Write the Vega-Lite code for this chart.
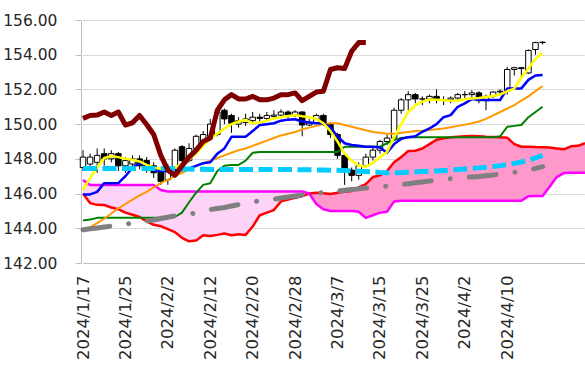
{
  "$schema": "https://vega.github.io/schema/vega-lite/v6.json",
  "autosize": {"type": "none"},
  "width": 504,
  "height": 243,
  "padding": {"left": 81, "top": 20, "right": 0, "bottom": 117},
  "background": "#ffffff",
  "config": {
    "view": {"stroke": null},
    "font": "DejaVu Sans",
    "axis": {"labelFont": "DejaVu Sans", "labelColor": "#262626", "labelOverlap": false},
    "axisY": {"labelOverlap": false, "labelFontSize": 15.5, "labelPadding": 18, "tickSize": 6, "tickColor": "#bfbfbf", "domainColor": "#bfbfbf", "gridColor": "#c8c8c8", "gridDash": [2, 1]}
  },
  "data": {"values": [
    {"date":"2024/1/17","open":147.5,"high":148.5,"low":147.3,"close":148.1,"ma5":146.2,"tenkan":145.95,"ma25":143.8,"kijun":144.45,"ma75":147.45,"ma200":143.92,"chikou":150.33,"spanA":146.0,"spanB":146.78},
    {"date":"2024/1/18","open":147.7,"high":148.3,"low":147.4,"close":148.1,"ma5":146.9,"tenkan":145.95,"ma25":144.05,"kijun":144.5,"ma75":147.45,"ma200":143.97,"chikou":150.5,"spanA":145.45,"spanB":146.5},
    {"date":"2024/1/19","open":147.8,"high":148.6,"low":147.2,"close":148.2,"ma5":147.5,"tenkan":146.1,"ma25":144.3,"kijun":144.6,"ma75":147.45,"ma200":144.02,"chikou":150.52,"spanA":145.35,"spanB":146.5},
    {"date":"2024/1/22","open":148.3,"high":148.6,"low":147.6,"close":148.0,"ma5":148.05,"tenkan":146.6,"ma25":144.55,"kijun":144.6,"ma75":147.45,"ma200":144.07,"chikou":150.7,"spanA":145.34,"spanB":146.5},
    {"date":"2024/1/23","open":148.0,"high":148.5,"low":147.8,"close":148.3,"ma5":148.15,"tenkan":146.6,"ma25":144.85,"kijun":144.6,"ma75":147.45,"ma200":144.12,"chikou":150.5,"spanA":145.2,"spanB":146.5},
    {"date":"2024/1/24","open":148.3,"high":148.4,"low":147.3,"close":147.6,"ma5":148.1,"tenkan":146.6,"ma25":145.15,"kijun":144.6,"ma75":147.45,"ma200":144.18,"chikou":150.7,"spanA":145.1,"spanB":146.5},
    {"date":"2024/1/25","open":147.6,"high":148.1,"low":147.2,"close":147.9,"ma5":148.0,"tenkan":147.0,"ma25":145.4,"kijun":144.6,"ma75":147.45,"ma200":144.24,"chikou":149.95,"spanA":144.9,"spanB":146.5},
    {"date":"2024/1/26","open":147.7,"high":148.2,"low":147.4,"close":148.0,"ma5":147.95,"tenkan":147.5,"ma25":145.65,"kijun":144.6,"ma75":147.45,"ma200":144.3,"chikou":150.08,"spanA":144.78,"spanB":146.5},
    {"date":"2024/1/29","open":148.0,"high":148.2,"low":147.4,"close":147.6,"ma5":147.85,"tenkan":147.75,"ma25":145.9,"kijun":144.6,"ma75":147.45,"ma200":144.36,"chikou":150.5,"spanA":144.65,"spanB":146.5},
    {"date":"2024/1/30","open":147.9,"high":148.1,"low":147.2,"close":147.4,"ma5":147.65,"tenkan":147.65,"ma25":146.1,"kijun":144.6,"ma75":147.45,"ma200":144.42,"chikou":149.98,"spanA":144.4,"spanB":146.5},
    {"date":"2024/1/31","open":147.6,"high":147.8,"low":146.9,"close":147.2,"ma5":147.5,"tenkan":147.35,"ma25":146.35,"kijun":144.6,"ma75":147.45,"ma200":144.48,"chikou":149.4,"spanA":144.2,"spanB":146.5},
    {"date":"2024/2/1","open":147.4,"high":147.5,"low":146.5,"close":146.7,"ma5":147.42,"tenkan":147.3,"ma25":146.6,"kijun":144.6,"ma75":147.45,"ma200":144.56,"chikou":148.2,"spanA":144.12,"spanB":146.2},
    {"date":"2024/2/2","open":146.8,"high":147.7,"low":146.5,"close":147.5,"ma5":147.35,"tenkan":147.3,"ma25":146.8,"kijun":144.6,"ma75":147.44,"ma200":144.64,"chikou":147.35,"spanA":143.95,"spanB":146.12},
    {"date":"2024/2/5","open":147.5,"high":148.6,"low":147.3,"close":148.5,"ma5":147.5,"tenkan":147.35,"ma25":147.0,"kijun":144.65,"ma75":147.43,"ma200":144.72,"chikou":147.05,"spanA":143.78,"spanB":146.12},
    {"date":"2024/2/6","open":148.7,"high":148.8,"low":147.8,"close":147.9,"ma5":147.7,"tenkan":147.35,"ma25":147.2,"kijun":144.9,"ma75":147.42,"ma200":144.77,"chikou":147.6,"spanA":143.45,"spanB":146.12},
    {"date":"2024/2/7","open":147.9,"high":148.9,"low":147.8,"close":148.6,"ma5":147.95,"tenkan":147.45,"ma25":147.4,"kijun":145.5,"ma75":147.41,"ma200":144.82,"chikou":148.1,"spanA":143.25,"spanB":146.12},
    {"date":"2024/2/8","open":148.6,"high":149.4,"low":148.3,"close":149.3,"ma5":148.3,"tenkan":147.6,"ma25":147.6,"kijun":146.05,"ma75":147.4,"ma200":144.88,"chikou":148.5,"spanA":143.3,"spanB":146.12},
    {"date":"2024/2/9","open":148.9,"high":149.6,"low":148.8,"close":149.4,"ma5":148.75,"tenkan":147.75,"ma25":147.75,"kijun":146.5,"ma75":147.4,"ma200":144.95,"chikou":149.0,"spanA":143.6,"spanB":146.12},
    {"date":"2024/2/12","open":149.3,"high":150.3,"low":149.2,"close":150.0,"ma5":149.15,"tenkan":147.8,"ma25":147.9,"kijun":146.6,"ma75":147.39,"ma200":145.08,"chikou":149.2,"spanA":143.55,"spanB":146.12},
    {"date":"2024/2/13","open":149.4,"high":150.9,"low":149.3,"close":150.7,"ma5":149.45,"tenkan":148.3,"ma25":148.05,"kijun":147.3,"ma75":147.39,"ma200":145.14,"chikou":150.8,"spanA":143.62,"spanB":146.12},
    {"date":"2024/2/14","open":150.8,"high":150.9,"low":150.0,"close":150.3,"ma5":149.75,"tenkan":148.6,"ma25":148.2,"kijun":147.6,"ma75":147.38,"ma200":145.2,"chikou":151.4,"spanA":143.7,"spanB":146.12},
    {"date":"2024/2/15","open":150.5,"high":150.6,"low":149.5,"close":150.05,"ma5":150.0,"tenkan":149.27,"ma25":148.35,"kijun":147.65,"ma75":147.38,"ma200":145.28,"chikou":151.7,"spanA":143.6,"spanB":146.12},
    {"date":"2024/2/16","open":150.0,"high":150.4,"low":149.8,"close":150.2,"ma5":150.15,"tenkan":149.27,"ma25":148.5,"kijun":147.65,"ma75":147.38,"ma200":145.36,"chikou":151.45,"spanA":143.65,"spanB":146.12},
    {"date":"2024/2/19","open":150.1,"high":150.6,"low":149.9,"close":150.3,"ma5":150.24,"tenkan":149.27,"ma25":148.6,"kijun":147.9,"ma75":147.38,"ma200":145.45,"chikou":151.45,"spanA":143.62,"spanB":146.12},
    {"date":"2024/2/20","open":150.2,"high":150.7,"low":150.0,"close":150.4,"ma5":150.05,"tenkan":149.6,"ma25":148.75,"kijun":148.35,"ma75":147.38,"ma200":145.52,"chikou":151.6,"spanA":144.1,"spanB":146.12},
    {"date":"2024/2/21","open":150.4,"high":150.6,"low":150.1,"close":150.33,"ma5":150.1,"tenkan":149.95,"ma25":148.9,"kijun":148.4,"ma75":147.38,"ma200":145.58,"chikou":151.4,"spanA":144.75,"spanB":146.12},
    {"date":"2024/2/22","open":150.33,"high":150.7,"low":150.2,"close":150.5,"ma5":150.2,"tenkan":150.0,"ma25":149.05,"kijun":148.4,"ma75":147.38,"ma200":145.63,"chikou":151.4,"spanA":144.9,"spanB":146.12},
    {"date":"2024/2/23","open":150.45,"high":150.8,"low":150.3,"close":150.52,"ma5":150.33,"tenkan":150.05,"ma25":149.2,"kijun":148.4,"ma75":147.38,"ma200":145.68,"chikou":151.5,"spanA":145.05,"spanB":146.12},
    {"date":"2024/2/26","open":150.52,"high":150.85,"low":150.4,"close":150.7,"ma5":150.4,"tenkan":150.2,"ma25":149.35,"kijun":148.4,"ma75":147.38,"ma200":145.74,"chikou":151.7,"spanA":145.55,"spanB":146.12},
    {"date":"2024/2/27","open":150.7,"high":150.8,"low":150.3,"close":150.5,"ma5":150.47,"tenkan":150.26,"ma25":149.45,"kijun":148.4,"ma75":147.38,"ma200":145.8,"chikou":151.7,"spanA":145.65,"spanB":146.12},
    {"date":"2024/2/28","open":150.5,"high":150.8,"low":150.4,"close":150.7,"ma5":150.52,"tenkan":150.28,"ma25":149.55,"kijun":148.4,"ma75":147.38,"ma200":145.86,"chikou":151.8,"spanA":145.75,"spanB":146.12},
    {"date":"2024/2/29","open":150.7,"high":150.75,"low":149.3,"close":149.95,"ma5":150.45,"tenkan":150.15,"ma25":149.7,"kijun":148.4,"ma75":147.37,"ma200":145.92,"chikou":151.35,"spanA":145.85,"spanB":146.12},
    {"date":"2024/3/1","open":149.95,"high":150.3,"low":149.9,"close":150.08,"ma5":150.4,"tenkan":150.1,"ma25":149.8,"kijun":148.4,"ma75":147.37,"ma200":145.97,"chikou":151.6,"spanA":146.0,"spanB":146.0},
    {"date":"2024/3/4","open":150.08,"high":150.6,"low":150.0,"close":150.5,"ma5":150.3,"tenkan":150.05,"ma25":149.9,"kijun":148.4,"ma75":147.36,"ma200":146.02,"chikou":151.85,"spanA":146.05,"spanB":145.4},
    {"date":"2024/3/5","open":150.5,"high":150.6,"low":149.9,"close":149.98,"ma5":150.05,"tenkan":150.05,"ma25":150.0,"kijun":148.4,"ma75":147.36,"ma200":146.07,"chikou":151.9,"spanA":146.02,"spanB":145.1},
    {"date":"2024/3/6","open":149.98,"high":150.1,"low":149.2,"close":149.4,"ma5":149.6,"tenkan":149.8,"ma25":150.05,"kijun":148.4,"ma75":147.35,"ma200":146.11,"chikou":153.15,"spanA":145.98,"spanB":145.0},
    {"date":"2024/3/7","open":149.4,"high":149.5,"low":148.0,"close":148.2,"ma5":149.0,"tenkan":149.3,"ma25":150.05,"kijun":148.4,"ma75":147.35,"ma200":146.15,"chikou":153.25,"spanA":146.05,"spanB":145.0},
    {"date":"2024/3/8","open":148.2,"high":148.3,"low":146.5,"close":147.35,"ma5":148.3,"tenkan":148.9,"ma25":149.95,"kijun":148.7,"ma75":147.33,"ma200":146.19,"chikou":153.2,"spanA":146.1,"spanB":145.0},
    {"date":"2024/3/11","open":147.35,"high":147.5,"low":146.7,"close":147.05,"ma5":147.9,"tenkan":148.8,"ma25":149.85,"kijun":148.7,"ma75":147.31,"ma200":146.23,"chikou":154.2,"spanA":146.15,"spanB":145.0},
    {"date":"2024/3/12","open":147.05,"high":147.8,"low":146.8,"close":147.6,"ma5":147.6,"tenkan":148.75,"ma25":149.75,"kijun":148.7,"ma75":147.29,"ma200":146.27,"chikou":154.7,"spanA":146.35,"spanB":144.95},
    {"date":"2024/3/13","open":147.6,"high":148.3,"low":147.5,"close":148.1,"ma5":147.55,"tenkan":148.7,"ma25":149.65,"kijun":148.7,"ma75":147.27,"ma200":146.32,"chikou":154.7,"spanA":146.55,"spanB":144.6},
    {"date":"2024/3/14","open":148.1,"high":148.7,"low":147.9,"close":148.5,"ma5":147.75,"tenkan":148.7,"ma25":149.55,"kijun":148.7,"ma75":147.25,"ma200":146.36,"spanA":146.95,"spanB":144.75},
    {"date":"2024/3/15","open":148.5,"high":149.1,"low":148.3,"close":149.0,"ma5":148.1,"tenkan":148.66,"ma25":149.5,"kijun":148.7,"ma75":147.22,"ma200":146.4,"spanA":147.05,"spanB":144.9},
    {"date":"2024/3/18","open":149.0,"high":149.4,"low":148.8,"close":149.2,"ma5":148.4,"tenkan":148.35,"ma25":149.45,"kijun":148.9,"ma75":147.2,"ma200":146.43,"spanA":147.3,"spanB":144.95},
    {"date":"2024/3/19","open":149.2,"high":150.95,"low":149.05,"close":150.8,"ma5":149.25,"tenkan":148.85,"ma25":149.45,"kijun":149.08,"ma75":147.2,"ma200":146.47,"spanA":147.8,"spanB":145.55},
    {"date":"2024/3/20","open":150.8,"high":151.5,"low":150.6,"close":151.4,"ma5":150.0,"tenkan":149.15,"ma25":149.5,"kijun":149.2,"ma75":147.21,"ma200":146.52,"spanA":148.1,"spanB":145.59},
    {"date":"2024/3/21","open":151.4,"high":151.9,"low":150.8,"close":151.7,"ma5":150.7,"tenkan":149.25,"ma25":149.55,"kijun":149.25,"ma75":147.23,"ma200":146.57,"spanA":148.45,"spanB":145.59},
    {"date":"2024/3/22","open":151.7,"high":151.8,"low":151.2,"close":151.45,"ma5":151.1,"tenkan":149.3,"ma25":149.6,"kijun":149.25,"ma75":147.25,"ma200":146.62,"spanA":148.47,"spanB":145.59},
    {"date":"2024/3/25","open":151.45,"high":151.6,"low":151.1,"close":151.45,"ma5":151.3,"tenkan":149.56,"ma25":149.62,"kijun":149.25,"ma75":147.27,"ma200":146.67,"spanA":148.6,"spanB":145.59},
    {"date":"2024/3/26","open":151.45,"high":151.7,"low":151.2,"close":151.6,"ma5":151.42,"tenkan":149.75,"ma25":149.66,"kijun":149.25,"ma75":147.29,"ma200":146.72,"spanA":148.85,"spanB":145.59},
    {"date":"2024/3/27","open":151.6,"high":152.0,"low":151.2,"close":151.4,"ma5":151.4,"tenkan":150.0,"ma25":149.7,"kijun":149.25,"ma75":147.3,"ma200":146.77,"spanA":149.1,"spanB":145.59},
    {"date":"2024/3/28","open":151.4,"high":151.6,"low":151.1,"close":151.4,"ma5":151.38,"tenkan":150.4,"ma25":149.75,"kijun":149.25,"ma75":147.33,"ma200":146.82,"spanA":149.18,"spanB":145.59},
    {"date":"2024/3/29","open":151.4,"high":151.6,"low":151.2,"close":151.5,"ma5":151.35,"tenkan":150.52,"ma25":149.82,"kijun":149.25,"ma75":147.36,"ma200":146.86,"spanA":149.25,"spanB":145.59},
    {"date":"2024/4/1","open":151.5,"high":151.8,"low":151.4,"close":151.7,"ma5":151.35,"tenkan":151.0,"ma25":149.9,"kijun":149.25,"ma75":147.39,"ma200":146.9,"spanA":149.28,"spanB":145.59},
    {"date":"2024/4/2","open":151.7,"high":151.9,"low":151.5,"close":151.7,"ma5":151.43,"tenkan":151.2,"ma25":149.97,"kijun":149.25,"ma75":147.42,"ma200":146.93,"spanA":149.3,"spanB":145.59},
    {"date":"2024/4/3","open":151.7,"high":151.95,"low":151.5,"close":151.8,"ma5":151.48,"tenkan":151.45,"ma25":150.05,"kijun":149.25,"ma75":147.45,"ma200":146.96,"spanA":149.31,"spanB":145.59},
    {"date":"2024/4/4","open":151.8,"high":151.9,"low":151.2,"close":151.35,"ma5":151.5,"tenkan":151.4,"ma25":150.15,"kijun":149.25,"ma75":147.48,"ma200":146.99,"spanA":149.3,"spanB":145.59},
    {"date":"2024/4/5","open":151.35,"high":151.7,"low":150.8,"close":151.6,"ma5":151.56,"tenkan":151.39,"ma25":150.3,"kijun":149.25,"ma75":147.52,"ma200":147.03,"spanA":149.27,"spanB":145.59},
    {"date":"2024/4/8","open":151.6,"high":151.9,"low":151.5,"close":151.85,"ma5":151.62,"tenkan":151.39,"ma25":150.5,"kijun":149.25,"ma75":147.56,"ma200":147.07,"spanA":149.26,"spanB":145.59},
    {"date":"2024/4/9","open":151.85,"high":152.0,"low":151.7,"close":151.9,"ma5":151.7,"tenkan":151.39,"ma25":150.7,"kijun":149.3,"ma75":147.61,"ma200":147.12,"spanA":149.25,"spanB":145.59},
    {"date":"2024/4/10","open":151.9,"high":153.3,"low":151.7,"close":153.15,"ma5":151.9,"tenkan":152.06,"ma25":150.9,"kijun":149.85,"ma75":147.67,"ma200":147.17,"spanA":149.22,"spanB":145.59},
    {"date":"2024/4/11","open":153.15,"high":153.3,"low":152.8,"close":153.25,"ma5":152.05,"tenkan":152.06,"ma25":151.1,"kijun":149.9,"ma75":147.74,"ma200":147.22,"spanA":148.85,"spanB":145.59},
    {"date":"2024/4/12","open":153.25,"high":153.3,"low":152.7,"close":153.2,"ma5":152.7,"tenkan":152.06,"ma25":151.35,"kijun":149.95,"ma75":147.82,"ma200":147.28,"spanA":148.7,"spanB":145.59},
    {"date":"2024/4/15","open":152.95,"high":154.3,"low":152.9,"close":154.25,"ma5":153.2,"tenkan":152.55,"ma25":151.6,"kijun":150.4,"ma75":147.92,"ma200":147.35,"spanA":148.7,"spanB":145.85},
    {"date":"2024/4/16","open":154.3,"high":154.75,"low":154.0,"close":154.7,"ma5":153.75,"tenkan":152.8,"ma25":151.9,"kijun":150.7,"ma75":148.05,"ma200":147.45,"spanA":148.68,"spanB":145.86},
    {"date":"2024/4/17","open":154.7,"high":154.78,"low":154.6,"close":154.72,"ma5":154.1,"tenkan":152.83,"ma25":152.2,"kijun":151.0,"ma75":148.2,"ma200":147.55,"spanA":148.67,"spanB":145.86},
    {"date":"2024/4/18","spanA":148.65,"spanB":146.4},
    {"date":"2024/4/19","spanA":148.6,"spanB":146.95},
    {"date":"2024/4/22","spanA":148.55,"spanB":147.18},
    {"date":"2024/4/23","spanA":148.72,"spanB":147.2},
    {"date":"2024/4/24","spanA":148.75,"spanB":147.2},
    {"date":"2024/4/25","spanA":148.9,"spanB":147.2}
  ]},
  "encoding": {
    "x": {
      "field": "date", "type": "ordinal", "title": null,
      "scale": {"type": "point", "range": [2, 504], "padding": 0, "domain": ["2024/1/17","2024/1/18","2024/1/19","2024/1/22","2024/1/23","2024/1/24","2024/1/25","2024/1/26","2024/1/29","2024/1/30","2024/1/31","2024/2/1","2024/2/2","2024/2/5","2024/2/6","2024/2/7","2024/2/8","2024/2/9","2024/2/12","2024/2/13","2024/2/14","2024/2/15","2024/2/16","2024/2/19","2024/2/20","2024/2/21","2024/2/22","2024/2/23","2024/2/26","2024/2/27","2024/2/28","2024/2/29","2024/3/1","2024/3/4","2024/3/5","2024/3/6","2024/3/7","2024/3/8","2024/3/11","2024/3/12","2024/3/13","2024/3/14","2024/3/15","2024/3/18","2024/3/19","2024/3/20","2024/3/21","2024/3/22","2024/3/25","2024/3/26","2024/3/27","2024/3/28","2024/3/29","2024/4/1","2024/4/2","2024/4/3","2024/4/4","2024/4/5","2024/4/8","2024/4/9","2024/4/10","2024/4/11","2024/4/12","2024/4/15","2024/4/16","2024/4/17","2024/4/18","2024/4/19","2024/4/22","2024/4/23","2024/4/24","2024/4/25"]},
      "axis": {"values": ["2024/1/17","2024/1/25","2024/2/2","2024/2/12","2024/2/20","2024/2/28","2024/3/7","2024/3/15","2024/3/25","2024/4/2","2024/4/10"], "labelAngle": 270, "labelFontSize": 16.5, "labelPadding": 12, "labelOverlap": false, "ticks": false, "domainColor": "#bfbfbf", "grid": false}
    },
    "y": {
      "type": "quantitative", "title": null,
      "scale": {"domain": [142, 156], "nice": false, "zero": false},
      "axis": {"values": [142,144,146,148,150,152,154,156], "format": ".2f", "labelOverlap": false}
    }
  },
  "layer": [
    {
      "transform": [{"filter": "datum.spanB >= datum.spanA"}],
      "mark": {"type": "area", "fill": "#fdd3f8", "opacity": 1},
      "encoding": {"y": {"field": "spanB", "type": "quantitative"}, "y2": {"field": "spanA"}}
    },
    {
      "transform": [{"filter": "datum.spanA >= datum.spanB"}],
      "mark": {"type": "area", "fill": "#ff99cc", "opacity": 1},
      "encoding": {"y": {"field": "spanA", "type": "quantitative"}, "y2": {"field": "spanB"}}
    },
    {"mark": {"type": "line", "color": "#ff0000", "strokeWidth": 2.5, "strokeJoin": "round"},
     "encoding": {"y": {"field": "spanA", "type": "quantitative"}}},
    {"mark": {"type": "line", "color": "#ff00ff", "strokeWidth": 2.5, "strokeJoin": "round"},
     "encoding": {"y": {"field": "spanB", "type": "quantitative"}}},
    {"mark": {"type": "rule", "color": "#000000", "strokeWidth": 1},
     "encoding": {"y": {"field": "low", "type": "quantitative"}, "y2": {"field": "high"}}},
    {"mark": {"type": "bar", "width": 5.5, "stroke": "#000000", "strokeWidth": 1},
     "encoding": {
       "y": {"field": "open", "type": "quantitative"},
       "y2": {"field": "close"},
       "fill": {"condition": {"test": "datum.close >= datum.open", "value": "#ffffff"}, "value": "#000000"}
     }},
    {"mark": {"type": "line", "color": "#008000", "strokeWidth": 2, "strokeJoin": "round"},
     "encoding": {"y": {"field": "kijun", "type": "quantitative"}}},
    {"mark": {"type": "line", "color": "#ff9900", "strokeWidth": 2, "strokeJoin": "round"},
     "encoding": {"y": {"field": "ma25", "type": "quantitative"}}},
    {"mark": {"type": "line", "color": "#0000ff", "strokeWidth": 2.5, "strokeJoin": "round"},
     "encoding": {"y": {"field": "tenkan", "type": "quantitative"}}},
    {"mark": {"type": "line", "color": "#ffff00", "strokeWidth": 2.5, "strokeJoin": "round"},
     "encoding": {"y": {"field": "ma5", "type": "quantitative"}}},
    {"mark": {"type": "line", "color": "#00ccff", "strokeWidth": 5, "strokeDash": [14, 5.5]},
     "encoding": {"y": {"field": "ma75", "type": "quantitative"}}},
    {"mark": {"type": "line", "color": "#808080", "strokeWidth": 5, "strokeCap": "round", "strokeDash": [27, 19, 0.01, 19]},
     "encoding": {"y": {"field": "ma200", "type": "quantitative"}}},
    {"mark": {"type": "line", "color": "#800000", "strokeWidth": 5, "strokeJoin": "round"},
     "encoding": {"y": {"field": "chikou", "type": "quantitative"}}}
  ]
}
